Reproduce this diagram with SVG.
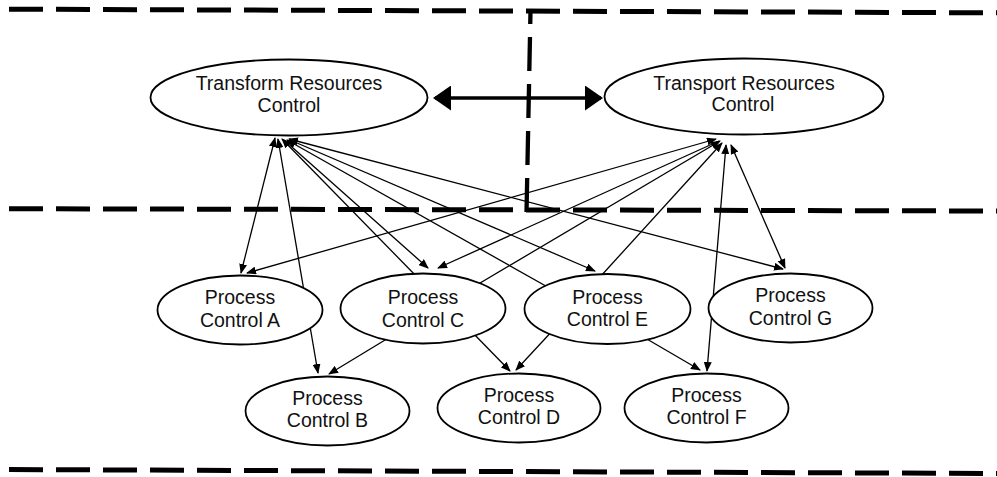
<svg xmlns="http://www.w3.org/2000/svg" width="997" height="477" viewBox="0 0 997 477">
<style>
.dash{stroke:#000;stroke-width:5;stroke-dasharray:34 13;fill:none}
.vdash{stroke:#000;stroke-width:4.3;stroke-dasharray:34 13;stroke-dashoffset:21;fill:none}
.node ellipse{fill:#fff;stroke:#000;stroke-width:1.8}
.node text{font-family:"Liberation Sans",Arial,sans-serif;font-size:19.5px;fill:#111;text-anchor:middle}
.c line{stroke:#000;stroke-width:1.3;fill:none}
.c .both{marker-start:url(#ah);marker-end:url(#ah)}
.c .end{marker-end:url(#ah)}
.c line.big{stroke:#000;stroke-width:3.6;marker-start:url(#bh);marker-end:url(#bh)}
</style>
<defs>
<marker id="ah" markerUnits="userSpaceOnUse" markerWidth="10" markerHeight="8" refX="9" refY="4" orient="auto-start-reverse" viewBox="0 0 10 8">
<path d="M0,0 L10,4 L0,8 z" fill="#000"/>
</marker>
<marker id="bh" markerUnits="userSpaceOnUse" markerWidth="18" markerHeight="25" refX="16" refY="12.5" orient="auto-start-reverse" viewBox="0 0 18 25">
<path d="M0,0 L18,12.5 L0,25 z" fill="#000"/>
</marker>
</defs>
<g id="dividers">
<line class="dash" x1="9" y1="9.2" x2="997" y2="12.8"/>
<line class="dash" x1="9" y1="208.7" x2="997" y2="211"/>
<line class="dash" x1="9" y1="469.5" x2="997" y2="473.5"/>
<line class="vdash" x1="530.5" y1="11" x2="526.5" y2="213"/>
</g>
<g id="connectors" class="c">
<line class="big" x1="435" y1="98" x2="601" y2="98"/>
<line class="both" x1="275" y1="138" x2="241" y2="273"/>
<line class="both" x1="278" y1="139" x2="318" y2="373"/>
<line class="end" x1="420" y1="280" x2="282" y2="139"/>
<line class="end" x1="284" y1="140" x2="428" y2="268"/>
<line class="end" x1="560" y1="294" x2="287" y2="140"/>
<line class="end" x1="290" y1="140" x2="595" y2="271"/>
<line class="both" x1="289" y1="139" x2="783" y2="269"/>
<line class="both" x1="716" y1="139" x2="247" y2="273"/>
<line class="end" x1="719" y1="141" x2="438" y2="268"/>
<line class="end" x1="470" y1="289" x2="720" y2="141"/>
<line class="end" x1="600" y1="277" x2="722" y2="143"/>
<line class="both" x1="726" y1="145" x2="707" y2="371"/>
<line class="both" x1="731" y1="145" x2="785" y2="268"/>
<line class="end" x1="390" y1="337" x2="329" y2="374"/>
<line class="end" x1="470" y1="330" x2="510" y2="371"/>
<line class="end" x1="555" y1="328" x2="516" y2="370"/>
<line class="end" x1="640" y1="335" x2="700" y2="370"/>
</g>
<g id="transform-resources-control" class="node">
<ellipse cx="289" cy="97.5" rx="138.5" ry="38"/>
<text x="289" y="90">Transform Resources</text>
<text x="289" y="111.7">Control</text>
</g>
<g id="transport-resources-control" class="node">
<ellipse cx="744" cy="96.5" rx="139.5" ry="38"/>
<text x="744" y="89.5">Transport Resources</text>
<text x="743" y="111.3">Control</text>
</g>
<g id="process-control-a" class="node">
<ellipse cx="240" cy="310" rx="82.5" ry="34.5"/>
<text x="240" y="304">Process</text>
<text x="240" y="326.7">Control A</text>
</g>
<g id="process-control-c" class="node">
<ellipse cx="423" cy="308.5" rx="82.5" ry="35"/>
<text x="423" y="304">Process</text>
<text x="423" y="326.7">Control C</text>
</g>
<g id="process-control-e" class="node">
<ellipse cx="607.5" cy="309" rx="83" ry="35"/>
<text x="607.5" y="304">Process</text>
<text x="607.5" y="326.3">Control E</text>
</g>
<g id="process-control-g" class="node">
<ellipse cx="790.5" cy="308" rx="82" ry="34.5"/>
<text x="790.5" y="301.7">Process</text>
<text x="790.5" y="324.5">Control G</text>
</g>
<g id="process-control-b" class="node">
<ellipse cx="327.5" cy="411" rx="82" ry="34.5"/>
<text x="327.5" y="405">Process</text>
<text x="327.5" y="427">Control B</text>
</g>
<g id="process-control-d" class="node">
<ellipse cx="519" cy="408" rx="81.5" ry="34.5"/>
<text x="519" y="401.7">Process</text>
<text x="519" y="424.3">Control D</text>
</g>
<g id="process-control-f" class="node">
<ellipse cx="706.5" cy="408" rx="82" ry="34.5"/>
<text x="706.5" y="401.7">Process</text>
<text x="706.5" y="424.3">Control F</text>
</g>
</svg>
